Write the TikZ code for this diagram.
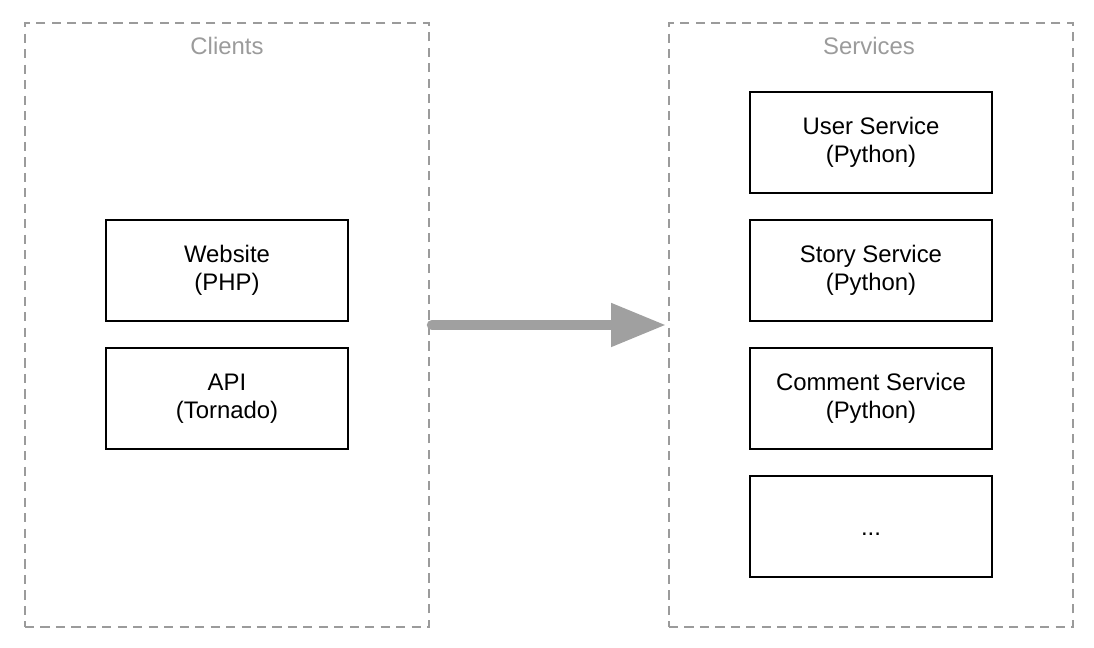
\documentclass[tikz,border=0pt]{standalone}
\usepackage{fontspec}
\setmainfont{Liberation Sans}
\usepackage{xcolor}
\definecolor{archGray}{HTML}{9B9B9B}
\definecolor{archArrow}{HTML}{A0A0A0}
\usetikzlibrary{arrows.meta,positioning}

\begin{document}
\begin{tikzpicture}[font=\fontsize{17}{19.9}\selectfont]
  \tikzset{
    group/.style={
      draw=archGray,
      line width=1.3pt,
      dash pattern=on 6.5pt off 4.5pt,
      minimum width=10.1cm,
      minimum height=15.1cm,
      inner sep=0pt,
    },
    grouptitle/.style={
      text=archGray,
      inner sep=0pt,
    },
    service/.style={
      draw=black,
      line width=1.4pt,
      fill=white,
      minimum width=6.05cm,
      minimum height=2.53cm,
      align=center,
      inner sep=0pt,
    },
    bigarrow/.style={
      draw=archArrow,
      line width=7.3pt,
      line cap=round,
      -{Triangle[length=1.375cm,width=1.03cm]},
    },
  }

  \path[use as bounding box] (0,0) rectangle (27.35,16.2);

  % Containers
  \node[group] (clients) at (5.675,8.075) {};
  \node[group] (services) at (21.775,8.075) {};
  \node[grouptitle] (clientsTitle) at (5.675,15.05) {Clients};
  \node[grouptitle] (servicesTitle) at (21.725,15.05) {Services};

  % Clients
  \node[service] (website) at (5.675,9.4375) {Website\\(PHP)};
  \node[service] (api) at (5.675,6.2375) {API\\(Tornado)};

  % Services
  \node[service] (user) at (21.775,12.6375) {User Service\\(Python)};
  \node[service] (story) at (21.775,9.4375) {Story Service\\(Python)};
  \node[service] (comment) at (21.775,6.2375) {Comment Service\\(Python)};
  \node[service,text height=0.45cm,text depth=0pt] (more) at (21.775,3.0375) {...};

  \draw[bigarrow,shorten <=0.05cm,shorten >=0.05cm] (clients.east) -- (services.west);
\end{tikzpicture}
\end{document}
